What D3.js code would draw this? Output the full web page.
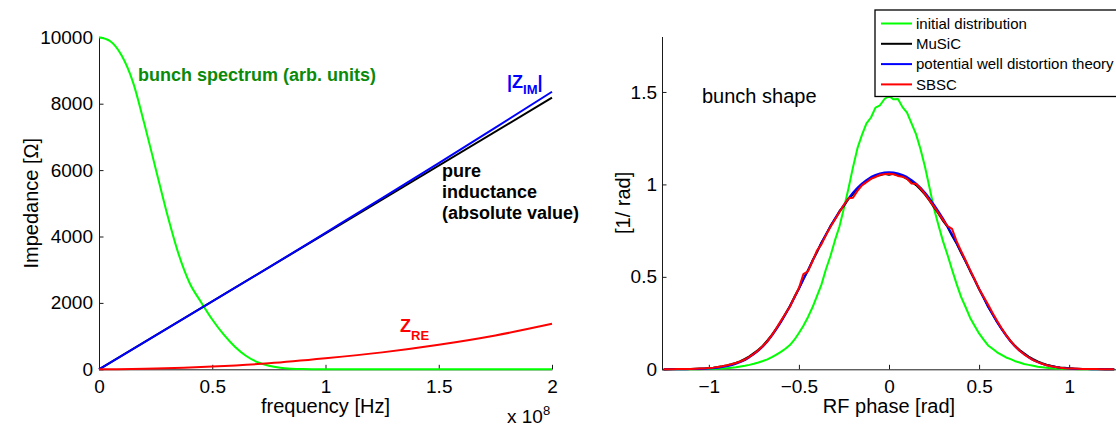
<!DOCTYPE html>
<html>
<head>
<meta charset="utf-8">
<script src="https://cdn.jsdelivr.net/npm/d3@7"></script>
<style>
  html, body { margin: 0; padding: 0; background: #fff; overflow: hidden; }
  svg { display: block; font-family: 'Liberation Sans', Arial, Helvetica, sans-serif; }
</style>
</head>
<body>
<svg id="chart" width="1116" height="427"></svg>
<script>
// ---------- Left panel data (frequency in units of 1e8 Hz) ----------
const specFreq = [0,0.05,0.1,0.15,0.2,0.25,0.3,0.35,0.4,0.45,0.5,0.55,0.6,0.65,0.7,0.75,0.8,0.85,0.9,0.95,1.0,1.5,2.0];
const specVal  = [10000,9880,9450,8650,7400,6050,4700,3500,2600,2030,1500,1050,680,400,215,105,45,18,6,2,0,0,0];
const indFreq  = [0, 2];
const indVal   = [0, 8180];
const zimFreq  = [0,0.25,0.5,0.75,1.0,1.25,1.5,1.75,2.0];
const zimVal   = [0,1022,2045,3069,4112,5157,6211,7277,8360];
const reFreq   = [0,0.25,0.5,0.75,1.0,1.25,1.5,1.75,2.0];
const reVal    = [0,25,85,180,330,510,740,1020,1370];
const freqTicks = [0,0.5,1,1.5,2];
const freqTickLabels = ["0","0.5","1","1.5","2"];
const impTicks = [0,2000,4000,6000,8000,10000];
const impTickLabels = ["0","2000","4000","6000","8000","10000"];

// ---------- Right panel data (RF phase in rad) ----------
const phase = [-1.25,-1.225,-1.2,-1.175,-1.15,-1.125,-1.1,-1.075,-1.05,-1.025,
  -1.0,-0.975,-0.95,-0.925,-0.9,-0.875,-0.85,-0.825,-0.8,-0.775,
  -0.75,-0.725,-0.7,-0.675,-0.65,-0.625,-0.6,-0.575,-0.55,-0.525,
  -0.5,-0.475,-0.45,-0.425,-0.4,-0.375,-0.35,-0.325,-0.3,-0.275,
  -0.25,-0.225,-0.2,-0.175,-0.15,-0.125,-0.1,-0.075,-0.05,-0.025,
  0,
  0.025,0.05,0.075,0.1,0.125,0.15,0.175,0.2,0.225,0.25,
  0.275,0.3,0.325,0.35,0.375,0.4,0.425,0.45,0.475,0.5,
  0.525,0.55,0.575,0.6,0.625,0.65,0.675,0.7,0.725,0.75,
  0.775,0.8,0.825,0.85,0.875,0.9,0.925,0.95,0.975,1.0,
  1.025,1.05,1.075,1.1,1.125,1.15,1.175,1.2,1.225,1.25];
const initialDist = [0,0,0,0,0,0,0,0,0,0.001,
  0.001,0.002,0.003,0.004,0.006,0.008,0.011,0.015,0.019,0.024,
  0.030,0.037,0.045,0.054,0.066,0.079,0.094,0.111,0.131,0.160,
  0.196,0.236,0.282,0.334,0.396,0.458,0.541,0.613,0.697,0.772,
  0.872,0.978,1.092,1.196,1.268,1.330,1.362,1.415,1.428,1.462,
  1.478,
  1.460,1.462,1.418,1.388,1.330,1.272,1.190,1.094,0.982,0.868,
  0.778,0.692,0.618,0.538,0.462,0.392,0.337,0.279,0.236,0.194,
  0.161,0.129,0.111,0.092,0.078,0.064,0.055,0.044,0.037,0.029,
  0.024,0.019,0.014,0.011,0.008,0.006,0.004,0.003,0.002,0.001,
  0.001,0,0,0,0,0,0,0,0,0];
const music = [0,0,0.001,0.001,0.001,0.002,0.002,0.003,0.004,0.005,
  0.007,0.009,0.012,0.016,0.021,0.027,0.034,0.044,0.056,0.070,
  0.088,0.106,0.128,0.156,0.186,0.222,0.258,0.301,0.343,0.392,
  0.437,0.489,0.534,0.588,0.633,0.686,0.727,0.776,0.812,0.855,
  0.884,0.921,0.947,0.976,0.998,1.018,1.031,1.046,1.050,1.057,
  1.052,
  1.058,1.049,1.044,1.030,1.016,0.996,0.972,0.945,0.912,0.876,
  0.842,0.802,0.770,0.722,0.680,0.630,0.583,0.532,0.484,0.433,
  0.388,0.338,0.298,0.256,0.220,0.185,0.154,0.127,0.104,0.086,
  0.069,0.055,0.043,0.033,0.025,0.019,0.014,0.010,0.008,0.006,
  0.004,0.003,0.002,0.002,0.001,0.001,0.001,0,0,0];
const pwdTheory = [0,0,0,0,0,0,0.001,0.001,0.002,0.003,
  0.004,0.006,0.008,0.012,0.016,0.022,0.030,0.039,0.050,0.065,
  0.082,0.100,0.123,0.150,0.182,0.217,0.255,0.296,0.340,0.387,
  0.435,0.485,0.535,0.585,0.635,0.683,0.730,0.773,0.815,0.853,
  0.890,0.924,0.955,0.982,1.005,1.024,1.040,1.051,1.059,1.064,
  1.066,
  1.064,1.059,1.051,1.040,1.024,1.005,0.982,0.955,0.924,0.890,
  0.853,0.815,0.773,0.730,0.683,0.635,0.585,0.535,0.485,0.435,
  0.387,0.340,0.296,0.255,0.217,0.182,0.150,0.123,0.100,0.082,
  0.065,0.050,0.039,0.030,0.022,0.016,0.012,0.008,0.006,0.004,
  0.003,0.002,0.001,0.001,0,0,0,0,0,0];
const sbsc = [0,0,0,0.001,0.001,0.001,0.002,0.003,0.004,0.005,
  0.007,0.009,0.013,0.017,0.022,0.027,0.034,0.042,0.053,0.067,
  0.084,0.103,0.126,0.152,0.185,0.222,0.262,0.300,0.338,0.390,
  0.440,0.515,0.530,0.583,0.642,0.676,0.726,0.770,0.810,0.850,
  0.890,0.925,0.928,0.965,0.995,1.012,1.030,1.040,1.052,1.055,
  1.058,
  1.055,1.046,1.042,1.030,1.005,1.003,0.978,0.948,0.914,0.880,
  0.844,0.808,0.775,0.760,0.693,0.640,0.590,0.538,0.487,0.436,
  0.392,0.350,0.305,0.262,0.222,0.185,0.152,0.124,0.100,0.081,
  0.064,0.050,0.039,0.030,0.022,0.016,0.012,0.009,0.006,0.005,
  0.004,0.003,0.002,0.001,0.001,0.001,0,0,0,0];
const phaseTicks = [-1,-0.5,0,0.5,1];
const phaseTickLabels = ["\u22121","\u22120.5","0","0.5","1"];
const densTicks = [0,0.5,1,1.5];
const densTickLabels = ["0","0.5","1","1.5"];
const legendLabels = ["initial distribution","MuSiC","potential well distortion theory","SBSC"];
const legendColors = ["#00ff00","#000000","#0000ff","#ff0000"];

// ---------- Drawing ----------
const svg = d3.select("#chart");
const TICK_FS = 19, LABEL_FS = 20;

function styleAxis(g) {
  g.select(".domain").attr("stroke", "#1a1a1a").attr("stroke-width", 1);
  g.selectAll(".tick line").attr("stroke", "#1a1a1a").attr("stroke-width", 1);
  g.selectAll(".tick text").attr("fill", "#000").attr("font-size", TICK_FS)
    .attr("font-family", "'Liberation Sans', Arial, sans-serif");
}

// Left panel
const xL = d3.scaleLinear().domain([0, 2]).range([99, 552]);
const yL = d3.scaleLinear().domain([0, 10000]).range([369.3, 37.3]);

svg.append("g").attr("transform", `translate(0,${yL(0)})`)
  .call(d3.axisBottom(xL).tickValues(freqTicks)
    .tickFormat((d, i) => freqTickLabels[i]).tickSizeInner(-4.5).tickSizeOuter(0).tickPadding(10))
  .call(styleAxis);
svg.append("g").attr("transform", `translate(${xL(0)},0)`)
  .call(d3.axisLeft(yL).tickValues(impTicks)
    .tickFormat((d, i) => impTickLabels[i]).tickSizeInner(-4.5).tickSizeOuter(0).tickPadding(6))
  .call(styleAxis);

const lineL = (fx, fy) => d3.line().x((d, i) => xL(fx[i])).y((d, i) => yL(fy[i])).curve(d3.curveMonotoneX)(fx);

svg.append("path").attr("d", lineL(specFreq, specVal)).attr("fill", "none").attr("stroke", "#00ff00").attr("stroke-width", 2);
svg.append("path").attr("d", lineL(indFreq, indVal)).attr("fill", "none").attr("stroke", "#000").attr("stroke-width", 2);
svg.append("path").attr("d", lineL(zimFreq, zimVal)).attr("fill", "none").attr("stroke", "#0000ff").attr("stroke-width", 2);
svg.append("path").attr("d", lineL(reFreq, reVal)).attr("fill", "none").attr("stroke", "#ff0000").attr("stroke-width", 2);

// Left labels
svg.append("text").attr("x", (xL(0) + xL(2)) / 2).attr("y", 413).attr("text-anchor", "middle")
  .attr("font-size", LABEL_FS).text("frequency [Hz]");
svg.append("text").attr("transform", `translate(38,${(yL(0) + yL(10000)) / 2}) rotate(-90)`)
  .attr("text-anchor", "middle").attr("font-size", LABEL_FS).text("Impedance [\u03A9]");
const sci = svg.append("text").attr("x", 507).attr("y", 423).attr("font-size", 19);
sci.append("tspan").text("x 10");
sci.append("tspan").attr("font-size", 13).attr("dy", -8).text("8");

// Left annotations
svg.append("text").attr("x", 138).attr("y", 81).attr("font-size", 18).attr("font-weight", "bold")
  .attr("fill", "#0a8a0a").text("bunch spectrum (arb. units)");
const zim = svg.append("text").attr("x", 507).attr("y", 88).attr("font-size", 18).attr("font-weight", "bold").attr("fill", "#0000ff");
zim.append("tspan").text("|Z");
zim.append("tspan").attr("font-size", 13).attr("dy", 6).text("IM");
zim.append("tspan").attr("dy", -6).text("|");
const pure = svg.append("text").attr("font-size", 18).attr("font-weight", "bold").attr("fill", "#000");
["pure", "inductance", "(absolute value)"].forEach((t, i) =>
  pure.append("tspan").attr("x", 442).attr("y", 177 + i * 21).text(t));
const zre = svg.append("text").attr("x", 400).attr("y", 332).attr("font-size", 18).attr("font-weight", "bold").attr("fill", "#ff0000");
zre.append("tspan").text("Z");
zre.append("tspan").attr("font-size", 13).attr("dy", 8).text("RE");

// Right panel
const xR = d3.scaleLinear().domain([-1.26, 1.26]).range([662, 1116]);
const yR = d3.scaleLinear().domain([0, 1.8]).range([369.3, 36.5]);

svg.append("g").attr("transform", `translate(0,${yR(0)})`)
  .call(d3.axisBottom(xR).tickValues(phaseTicks)
    .tickFormat((d, i) => phaseTickLabels[i]).tickSizeInner(-4.5).tickSizeOuter(0).tickPadding(10))
  .call(styleAxis);
svg.append("g").attr("transform", `translate(${xR(-1.26)},0)`)
  .call(d3.axisLeft(yR).tickValues(densTicks)
    .tickFormat((d, i) => densTickLabels[i]).tickSizeInner(-4.5).tickSizeOuter(0).tickPadding(5))
  .call(styleAxis);

const lineR = d3.line().x((d, i) => xR(phase[i])).y(d => yR(d));
[[initialDist, "#00ff00"], [music, "#000"], [pwdTheory, "#0000ff"], [sbsc, "#ff0000"]].forEach(([s, c]) => {
  svg.append("path").attr("d", lineR(s)).attr("fill", "none").attr("stroke", c).attr("stroke-width", 2)
    .attr("stroke-linejoin", "round");
});

svg.append("text").attr("x", 702).attr("y", 103).attr("font-size", LABEL_FS).text("bunch shape");
svg.append("text").attr("x", (xR(-1.26) + xR(1.26)) / 2).attr("y", 413).attr("text-anchor", "middle")
  .attr("font-size", LABEL_FS).text("RF phase [rad]");
svg.append("text").attr("transform", `translate(630,${(yR(0) + yR(1.8)) / 2}) rotate(-90)`)
  .attr("text-anchor", "middle").attr("font-size", LABEL_FS).text("[1/ rad]");

// Legend
const lg = svg.append("g");
lg.append("rect").attr("x", 875).attr("y", 10).attr("width", 270).attr("height", 86.5)
  .attr("fill", "#fff").attr("stroke", "#000").attr("stroke-width", 1.3);
legendLabels.forEach((t, i) => {
  const y = 23.5 + i * 20.3;
  lg.append("line").attr("x1", 881).attr("x2", 912).attr("y1", y).attr("y2", y)
    .attr("stroke", legendColors[i]).attr("stroke-width", 2);
  lg.append("text").attr("x", 916).attr("y", y).attr("dy", "0.35em").attr("font-size", 15).text(t);
});
</script>
</body>
</html>
